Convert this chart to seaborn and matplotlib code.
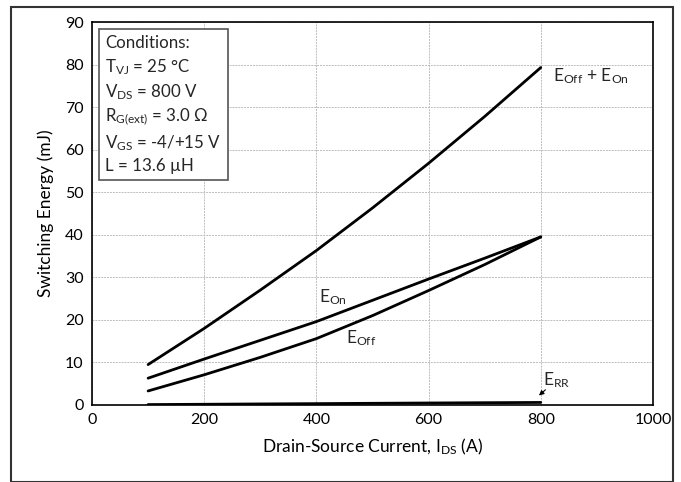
import matplotlib
matplotlib.use("Agg")
import matplotlib.pyplot as plt
import seaborn as sns
import pandas as pd
from matplotlib.patches import Rectangle

current = [100, 200, 300, 400, 500, 600, 700, 800]
e_total = [9.5, 18.0, 27.0, 36.3, 46.3, 56.8, 67.8, 79.3]
e_on = [6.3, 10.8, 15.2, 19.6, 24.6, 29.6, 34.5, 39.5]
e_off = [3.3, 7.1, 11.2, 15.6, 21.0, 26.9, 33.0, 39.5]
e_rr = [0.1, 0.17, 0.25, 0.32, 0.4, 0.47, 0.54, 0.6]

x_ticks = [0, 200, 400, 600, 800, 1000]
y_ticks = [0, 10, 20, 30, 40, 50, 60, 70, 80, 90]

sns.set_theme(style="white")
plt.rcParams['font.family'] = ['Lato', 'DejaVu Sans']
plt.rcParams['mathtext.fontset'] = 'custom'
plt.rcParams['mathtext.rm'] = 'Lato'
plt.rcParams['mathtext.it'] = 'Lato'
plt.rcParams['mathtext.bf'] = 'Lato:bold'

df = pd.DataFrame({
    "I": current * 4,
    "E": e_total + e_on + e_off + e_rr,
    "curve": ["total"] * 8 + ["on"] * 8 + ["off"] * 8 + ["rr"] * 8,
})

fig = plt.figure(figsize=(6.81, 4.82), dpi=100)
ax = fig.add_axes([92 / 681, 1 - 405 / 482, (653 - 92) / 681, (405 - 22) / 482])

sns.lineplot(data=df, x="I", y="E", units="curve", estimator=None,
             color="black", linewidth=2, ax=ax, legend=False)

ax.set_xlim(0, 1000)
ax.set_ylim(0, 90)
ax.set_xticks(x_ticks)
ax.set_yticks(y_ticks)
ax.tick_params(axis='both', labelsize=11.5, length=0, pad=6, colors="black")
ax.grid(True, color="#bdbdbd", linestyle=(0, (2, 1)), linewidth=0.7)
for s in ax.spines.values():
    s.set_color("black")
    s.set_linewidth(1.2)
ax.set_xlabel(r"Drain-Source Current, I$_{\mathrm{DS}}$ (A)", fontsize=12.5, labelpad=7, color="black")
ax.set_ylabel("Switching Energy (mJ)", fontsize=12.5, labelpad=8, color="black")

fs = 12.5
ax.text(822, 76, r"E$_{\mathrm{Off}}$ + E$_{\mathrm{On}}$", fontsize=fs, ha="left", va="baseline")
ax.text(404, 24.2, r"E$_{\mathrm{On}}$", fontsize=fs, ha="left", va="baseline")
ax.text(452, 14.6, r"E$_{\mathrm{Off}}$", fontsize=fs, ha="left", va="baseline")
ax.text(804, 4.7, r"E$_{\mathrm{RR}}$", fontsize=fs, ha="left", va="baseline")
ax.annotate("", xy=(793, 1.8), xytext=(812, 4.0),
            arrowprops=dict(arrowstyle="-|>", color="black", lw=0.8, mutation_scale=7))

cond = ("Conditions:\n"
        r"T$_{\mathrm{VJ}}$ = 25 °C" "\n"
        r"V$_{\mathrm{DS}}$ = 800 V" "\n"
        r"R$_{\mathrm{G(ext)}}$ = 3.0 Ω" "\n"
        r"V$_{\mathrm{GS}}$ = -4/+15 V" "\n"
        "L = 13.6 µH")
ax.text(0.024, 0.965, cond, transform=ax.transAxes, fontsize=12.2, ha="left", va="top",
        linespacing=1.36,
        bbox=dict(boxstyle="square,pad=0.4", facecolor="white", edgecolor="#555555", linewidth=1.2))

fig.patches.append(Rectangle((11 / 681, 0.0), (673 - 11) / 681, 1 - 7 / 482,
                             transform=fig.transFigure, fill=False,
                             edgecolor="#333333", linewidth=1.5))

fig.savefig("out.png", dpi=100)
